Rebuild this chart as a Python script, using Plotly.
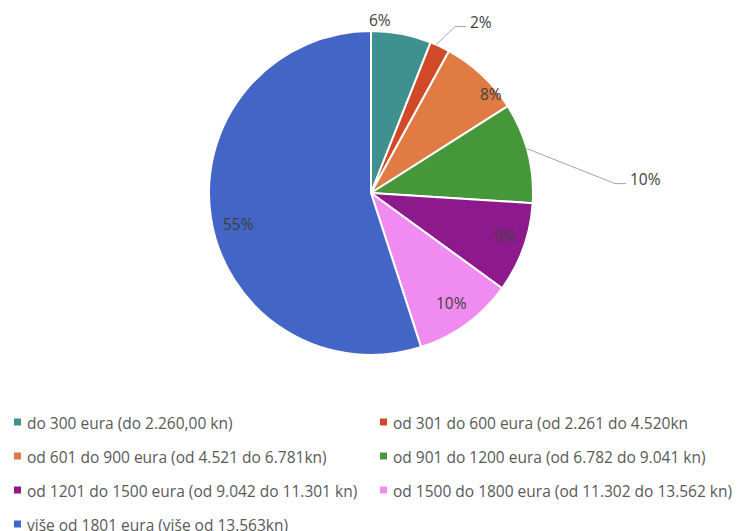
import math
import plotly.graph_objects as go

# Income brackets and their share of respondents (%)
categories = [
    "do 300 eura (do 2.260,00 kn)",
    "od 301 do 600 eura (od 2.261 do 4.520kn",
    "od 601 do 900 eura (od 4.521 do 6.781kn)",
    "od 901 do 1200 eura (od 6.782 do 9.041 kn)",
    "od 1201 do 1500 eura (od 9.042 do 11.301 kn)",
    "od 1500 do 1800 eura (od 11.302 do 13.562 kn)",
    "više od 1801 eura (više od 13.563kn)",
]
shares = [6, 2, 8, 10, 9, 10, 55]
colors = ["#3F9190", "#D04A29", "#DF7B43", "#46973A", "#8C1A8C", "#F08CF1", "#4265C6"]

# Label placement per slice: (mode, angle offset from slice middle in deg, radius factor)
label_place = [
    ("plain", -7.8, 1.07),
    ("leader", 4.4, 1.214),
    ("plain", 7.3, 0.96),
    ("leader", 11.3, 1.589),
    ("plain", -2.0, 0.87),
    ("plain", -0.4, 0.84),
    ("plain", -4.2, 0.84),
]

W, H = 738, 531
CX, CY, R = 371, 193, 162   # pie centre and radius in pixels

TEXT = "#404040"
LEG_TEXT = "#595959"
FONT = "Open Sans"
LABEL_SIZE = 15.5
LEGEND_SIZE = 15.5


def px(x):
    return x / W


def py(y):
    return 1 - y / H


def polar(theta_deg, r):
    t = math.radians(theta_deg)
    return CX + r * math.sin(t), CY - r * math.cos(t)


fig = go.Figure()
fig.add_trace(go.Pie(
    labels=categories,
    values=shares,
    sort=False,
    direction="clockwise",
    rotation=0,
    textinfo="none",
    hoverinfo="label+percent",
    marker=dict(colors=colors, line=dict(color="white", width=2)),
    domain=dict(x=[px(CX - R), px(CX + R)], y=[py(CY + R), py(CY - R)]),
    showlegend=False,
))

annotations = []
shapes = []

# Percentage labels, placed around each slice's middle angle
total = sum(shares)
start = 0.0
for val, (mode, off, rf) in zip(shares, label_place):
    span = 360.0 * val / total
    mid = start + span / 2
    start += span
    lx, ly = polar(mid + off, R * rf)
    txt = f"{round(100 * val / total)}%"
    if mode == "plain":
        annotations.append(dict(x=px(lx), y=py(ly), xref="paper", yref="paper",
                                text=txt, showarrow=False, xanchor="center", yanchor="middle",
                                font=dict(family=FONT, size=LABEL_SIZE, color=TEXT)))
    else:
        sx, sy = polar(mid - 1.5, R)
        ey = ly + 4.5
        path = (f"M {px(sx)} {py(sy)} L {px(lx - 13)} {py(ey)} "
                f"L {px(lx - 2)} {py(ey)}")
        shapes.append(dict(type="path", path=path, xref="paper", yref="paper",
                           line=dict(color="#A6A6A6", width=1)))
        annotations.append(dict(x=px(lx), y=py(ly), xref="paper", yref="paper",
                                text=txt, showarrow=False, xanchor="left", yanchor="middle",
                                font=dict(family=FONT, size=LABEL_SIZE, color=TEXT)))

# Two-column legend below the pie
col_x = [14, 380]
row_y = [423, 457, 491, 525]
for i, (name, col) in enumerate(zip(categories, colors)):
    r, c = divmod(i, 2)
    mx, my = col_x[c], row_y[r] - 1
    shapes.append(dict(type="rect", xref="paper", yref="paper",
                       x0=px(mx), x1=px(mx + 7), y0=py(my + 3.5), y1=py(my - 3.5),
                       fillcolor=col, line=dict(width=0)))
    annotations.append(dict(x=px(mx + 11), y=py(row_y[r]), xref="paper", yref="paper",
                            text=name, showarrow=False, xanchor="left", yanchor="middle",
                            font=dict(family=FONT, size=LEGEND_SIZE, color=LEG_TEXT)))

fig.update_layout(
    width=W, height=H,
    margin=dict(l=0, r=0, t=0, b=0),
    paper_bgcolor="white",
    plot_bgcolor="white",
    annotations=annotations,
    shapes=shapes,
)

fig.write_html("out.html")
